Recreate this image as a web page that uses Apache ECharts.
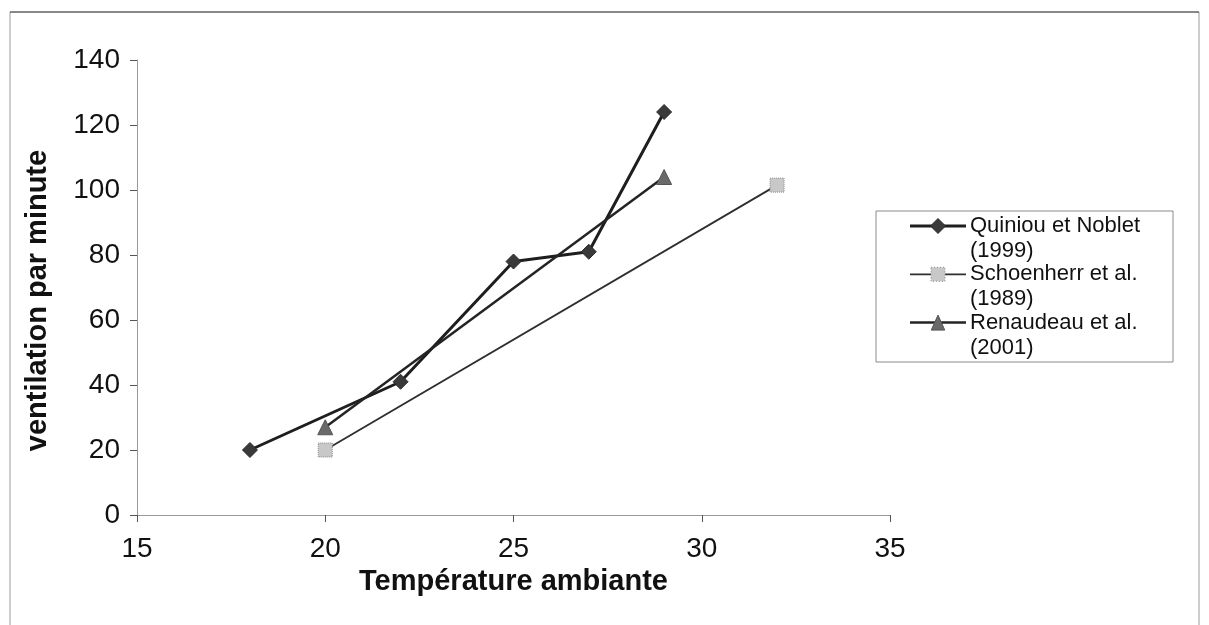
<!DOCTYPE html>
<html>
<head>
<meta charset="utf-8">
<script src="https://cdn.jsdelivr.net/npm/echarts@6/dist/echarts.min.js"></script>
<style>
  html, body { margin: 0; padding: 0; background: #fff; }
  #chart { width: 1209px; height: 625px; }
</style>
</head>
<body>
<div id="chart"></div>
<script>
// Respiratory rate versus ambient temperature, three studies
const quiniouTemps = [18, 22, 25, 27, 29];
const quiniouRates = [20, 41, 78, 81, 124];
const schoenherrTemps = [20, 32];
const schoenherrRates = [20, 101.5];
const renaudeauTemps = [20, 29];
const renaudeauRates = [27, 104];

const seriesNames = ['Quiniou et Noblet (1999)', 'Schoenherr et al. (1989)', 'Renaudeau et al. (2001)'];
const legendLines = [['Quiniou et Noblet', '(1999)'], ['Schoenherr et al.', '(1989)'], ['Renaudeau et al.', '(2001)']];
const xAxisTitle = 'Température ambiante';
const yAxisTitle = 'ventilation par minute';

const FONT = '"Liberation Sans", Arial, sans-serif';

function pairs(xs, ys) { return xs.map((x, i) => [x, ys[i]]); }

const styles = [
  { symbol: 'diamond', size: 15, fill: '#3a3a3a', border: '#2a2a2a', borderType: 'solid', line: '#1e1e1e', width: 3 },
  { symbol: 'rect', size: 14, fill: '#c8c8c8', border: '#8a8a8a', borderType: 'dotted', line: '#2e2e2e', width: 1.8 },
  { symbol: 'triangle', size: 15, fill: '#6a6a6a', border: '#555555', borderType: 'solid', line: '#242424', width: 2.5 }
];
const seriesData = [
  pairs(quiniouTemps, quiniouRates),
  pairs(schoenherrTemps, schoenherrRates),
  pairs(renaudeauTemps, renaudeauRates)
];

const chart = echarts.init(document.getElementById('chart'), null, { renderer: 'canvas' });

// hand-built legend: sample line, marker and a two-line label per series
const legendBox = { x: 876, y: 211, w: 297, h: 151 };
const legendGraphics = [{
  type: 'rect', shape: { x: legendBox.x, y: legendBox.y, width: legendBox.w, height: legendBox.h },
  style: { fill: '#fff', stroke: '#8a8a8a', lineWidth: 1 }, z: 10
}];
legendLines.forEach((lines, i) => {
  const s = styles[i];
  const yc = 226 + i * 48.3;
  const cx = 938;
  legendGraphics.push({
    type: 'line', shape: { x1: 910, y1: yc, x2: 966, y2: yc },
    style: { stroke: s.line, lineWidth: s.width }, z: 11
  });
  const h = s.size / 2;
  let marker;
  if (s.symbol === 'diamond') {
    marker = { type: 'polygon', shape: { points: [[cx, yc - h], [cx + h, yc], [cx, yc + h], [cx - h, yc]] } };
  } else if (s.symbol === 'triangle') {
    marker = { type: 'polygon', shape: { points: [[cx, yc - h], [cx + h * 0.9, yc + h], [cx - h * 0.9, yc + h]] } };
  } else {
    marker = { type: 'rect', shape: { x: cx - h, y: yc - h, width: s.size, height: s.size } };
  }
  marker.style = { fill: s.fill, stroke: s.border, lineWidth: 1, lineDash: s.borderType === 'dotted' ? [1, 2] : null };
  marker.z = 12;
  legendGraphics.push(marker);
  legendGraphics.push({
    type: 'text', x: 970, y: yc - 12.5, z: 12,
    style: { text: lines.join('\n'), fontFamily: FONT, fontSize: 22, lineHeight: 25, fill: '#111', verticalAlign: 'top', align: 'left' }
  });
});

const option = {
  backgroundColor: '#ffffff',
  animation: false,
  grid: { left: 137, right: 319, top: 60, bottom: 110, containLabel: false },
  xAxis: {
    type: 'value', min: 15, max: 35, interval: 5,
    name: xAxisTitle, nameLocation: 'middle', nameGap: 39,
    nameTextStyle: { fontFamily: FONT, fontSize: 29, fontWeight: 'bold', color: '#111' },
    axisLine: { show: true, onZero: false, lineStyle: { color: '#9a9a9a', width: 1 } },
    axisTick: { show: true, inside: false, length: 7, lineStyle: { color: '#555', width: 1 } },
    axisLabel: { fontFamily: FONT, fontSize: 28, color: '#111', margin: 20 },
    splitLine: { show: false }
  },
  yAxis: {
    type: 'value', min: 0, max: 140, interval: 20,
    name: yAxisTitle, nameLocation: 'middle', nameGap: 85, nameRotate: 90,
    nameTextStyle: { fontFamily: FONT, fontSize: 29, fontWeight: 'bold', color: '#111', padding: [0, 26, 0, 0] },
    axisLine: { show: true, lineStyle: { color: '#9a9a9a', width: 1 } },
    axisTick: { show: true, inside: false, length: 7, lineStyle: { color: '#555', width: 1 } },
    axisLabel: { fontFamily: FONT, fontSize: 28, color: '#111', margin: 17 },
    splitLine: { show: false }
  },
  series: seriesData.map((data, i) => ({
    name: seriesNames[i],
    type: 'line',
    data: data,
    symbol: styles[i].symbol,
    symbolSize: styles[i].size,
    showAllSymbol: true,
    lineStyle: { color: styles[i].line, width: styles[i].width },
    itemStyle: { color: styles[i].fill, borderColor: styles[i].border, borderWidth: 1, borderType: styles[i].borderType },
    z: 3 + i
  })),
  graphic: [
    // outer frame of the figure
    { type: 'rect', shape: { x: 10, y: 12, width: 1189, height: 620 }, style: { fill: 'none', stroke: '#9a9a9a', lineWidth: 1 }, z: 1 },
    { type: 'line', shape: { x1: 10, y1: 12, x2: 1199, y2: 12 }, style: { stroke: '#444', lineWidth: 1.2 }, z: 1 }
  ].concat(legendGraphics)
};

chart.setOption(option);
</script>
</body>
</html>
